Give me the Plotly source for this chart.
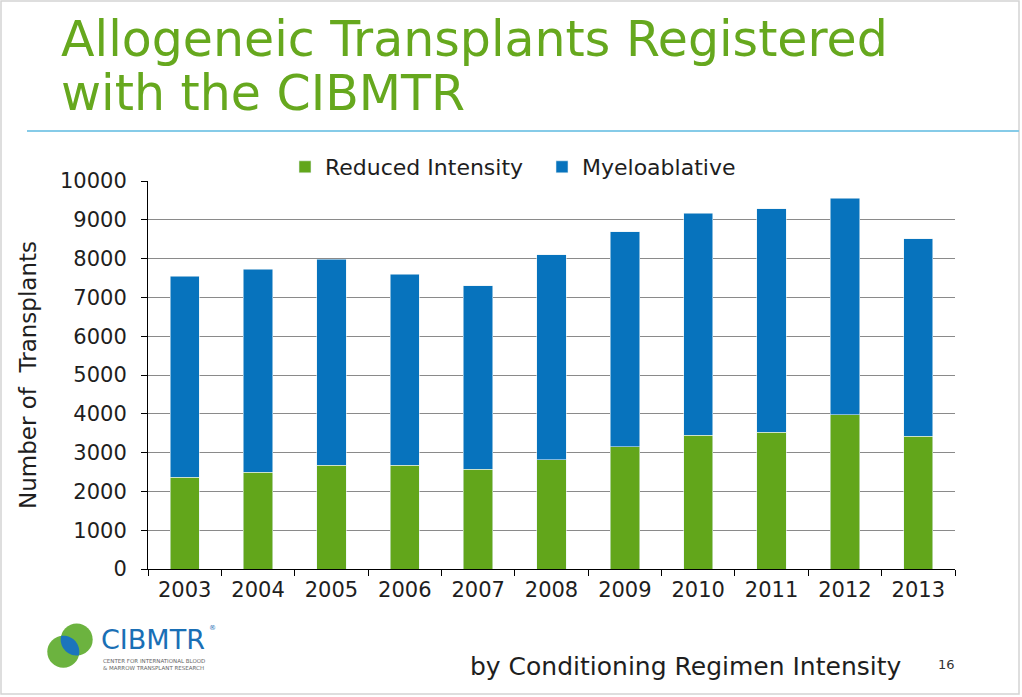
import numpy as np
import plotly.graph_objects as go

years = ["2003", "2004", "2005", "2006", "2007", "2008", "2009", "2010", "2011", "2012", "2013"]
reduced_intensity = [2370, 2500, 2680, 2680, 2570, 2820, 3150, 3450, 3530, 3980, 3420]
myeloablative = [5180, 5230, 5300, 4920, 4730, 5280, 5540, 5720, 5750, 5580, 5090]
y_ticks = [0, 1000, 2000, 3000, 4000, 5000, 6000, 7000, 8000, 9000, 10000]

W, H = 1022, 697
L, R, T, B = 148, 67, 181, 128
PW, PH = W - L - R, H - T - B

def px(x):
    return (x - L) / PW

def py(y):
    return (H - B - y) / PH

FONT = "DejaVu Sans"
GREEN = "#62a61b"
BLUE = "#0773bd"
TXT = "#1e1e1e"
TITLE_GREEN = "#66a81e"

fig = go.Figure()
fig.add_trace(go.Bar(x=years, y=reduced_intensity, name="Reduced Intensity",
                     marker=dict(color=GREEN, line=dict(color="rgba(230,240,245,0.7)", width=0.8))))
fig.add_trace(go.Bar(x=years, y=myeloablative, name="Myeloablative",
                     marker=dict(color=BLUE, line=dict(color="rgba(230,240,245,0.7)", width=0.8))))

shapes = []
# slide border
shapes.append(dict(type="rect", xref="paper", yref="paper", x0=px(1), x1=px(1019), y0=py(1), y1=py(694),
                   line=dict(color="#d4d4d4", width=1.5), fillcolor="rgba(0,0,0,0)", layer="below"))
# blue separator line
shapes.append(dict(type="line", xref="paper", yref="paper", x0=px(27), x1=px(1019), y0=py(131), y1=py(131),
                   line=dict(color="#86cbe8", width=2)))

# logo circles
c1 = np.array([63.3, 651.7]); r1 = 16.0
c2 = np.array([76.7, 639.5]); r2 = 16.0
for c, r in [(c1, r1), (c2, r2)]:
    shapes.append(dict(type="circle", xref="paper", yref="paper",
                       x0=px(c[0] - r), x1=px(c[0] + r), y0=py(c[1] + r), y1=py(c[1] - r),
                       fillcolor="#6cb33f", line=dict(width=0)))
d = np.linalg.norm(c2 - c1)
a = (r1 ** 2 - r2 ** 2 + d ** 2) / (2 * d)
phi = np.arctan2(*(c2 - c1)[::-1])
alpha = np.arccos(a / r1)
psi = np.arctan2(*(c1 - c2)[::-1])
beta = np.arccos((d - a) / r2)
t1 = np.linspace(phi - alpha, phi + alpha, 30)
arc1 = np.c_[c1[0] + r1 * np.cos(t1), c1[1] + r1 * np.sin(t1)]
t2 = np.linspace(psi - beta, psi + beta, 30)
arc2 = np.c_[c2[0] + r2 * np.cos(t2), c2[1] + r2 * np.sin(t2)]
if np.linalg.norm(arc1[-1] - arc2[0]) > np.linalg.norm(arc1[-1] - arc2[-1]):
    arc2 = arc2[::-1]
pts = np.vstack([arc1, arc2])
path = "M" + " L".join(f"{px(x):.5f},{py(y):.5f}" for x, y in pts) + " Z"
shapes.append(dict(type="path", xref="paper", yref="paper", path=path,
                   fillcolor="#1b75bc", line=dict(width=0)))

annotations = []
def ann(text, x, y, size, color=TXT, xanchor="left", yanchor="middle", family=FONT):
    annotations.append(dict(text=text, x=px(x), y=py(y), xref="paper", yref="paper",
                            showarrow=False, xanchor=xanchor, yanchor=yanchor,
                            font=dict(family=family, size=size, color=color)))

ann("Allogeneic Transplants Registered", 59, 40, 49, TITLE_GREEN)
ann("with the CIBMTR", 59, 94, 49, TITLE_GREEN)
ann("by Conditioning Regimen Intensity", 468, 666, 25)
ann("16", 936, 664, 13, "#333333")
ann("CIBMTR", 99, 639, 27, "#1a6fb5")
ann("®", 207, 628, 7, "#1a6fb5")
ann("CENTER FOR INTERNATIONAL BLOOD", 101, 661, 5.5, "#666666")
ann("&amp; MARROW TRANSPLANT RESEARCH", 101, 668, 5.5, "#666666")

fig.update_layout(
    width=W, height=H,
    margin=dict(l=L, r=R, t=T, b=B, autoexpand=False),
    paper_bgcolor="white", plot_bgcolor="white",
    barmode="stack", bargap=0.6,
    font=dict(family=FONT, color=TXT),
    showlegend=True,
    legend=dict(orientation="h", traceorder="normal", x=px(285), y=py(167),
                xanchor="left", yanchor="middle", font=dict(size=22, color=TXT),
                bgcolor="rgba(0,0,0,0)", entrywidth=212, entrywidthmode="pixels"),
    xaxis=dict(type="category", showline=True, linecolor="black", linewidth=1,
               ticks="outside", ticklen=6, tickcolor="black", tickson="boundaries",
               showgrid=False, tickfont=dict(size=21, color=TXT), ticklabelstandoff=2),
    yaxis=dict(range=[0, 10000], tickvals=y_ticks, tickformat="d", showgrid=True,
               gridcolor="#8a8a8a", gridwidth=1, showline=True, linecolor="black",
               linewidth=1, ticks="outside", ticklen=6, tickcolor="black", zeroline=False,
               tickfont=dict(size=21, color=TXT), ticklabelstandoff=10,
               title=dict(text="Number of  Transplants", font=dict(size=23, color=TXT), standoff=16)),
    shapes=shapes,
    annotations=annotations,
)

fig.write_html("out.html", config={"displayModeBar": False},
               post_script="document.body.style.margin='0';document.body.style.padding='0';")
